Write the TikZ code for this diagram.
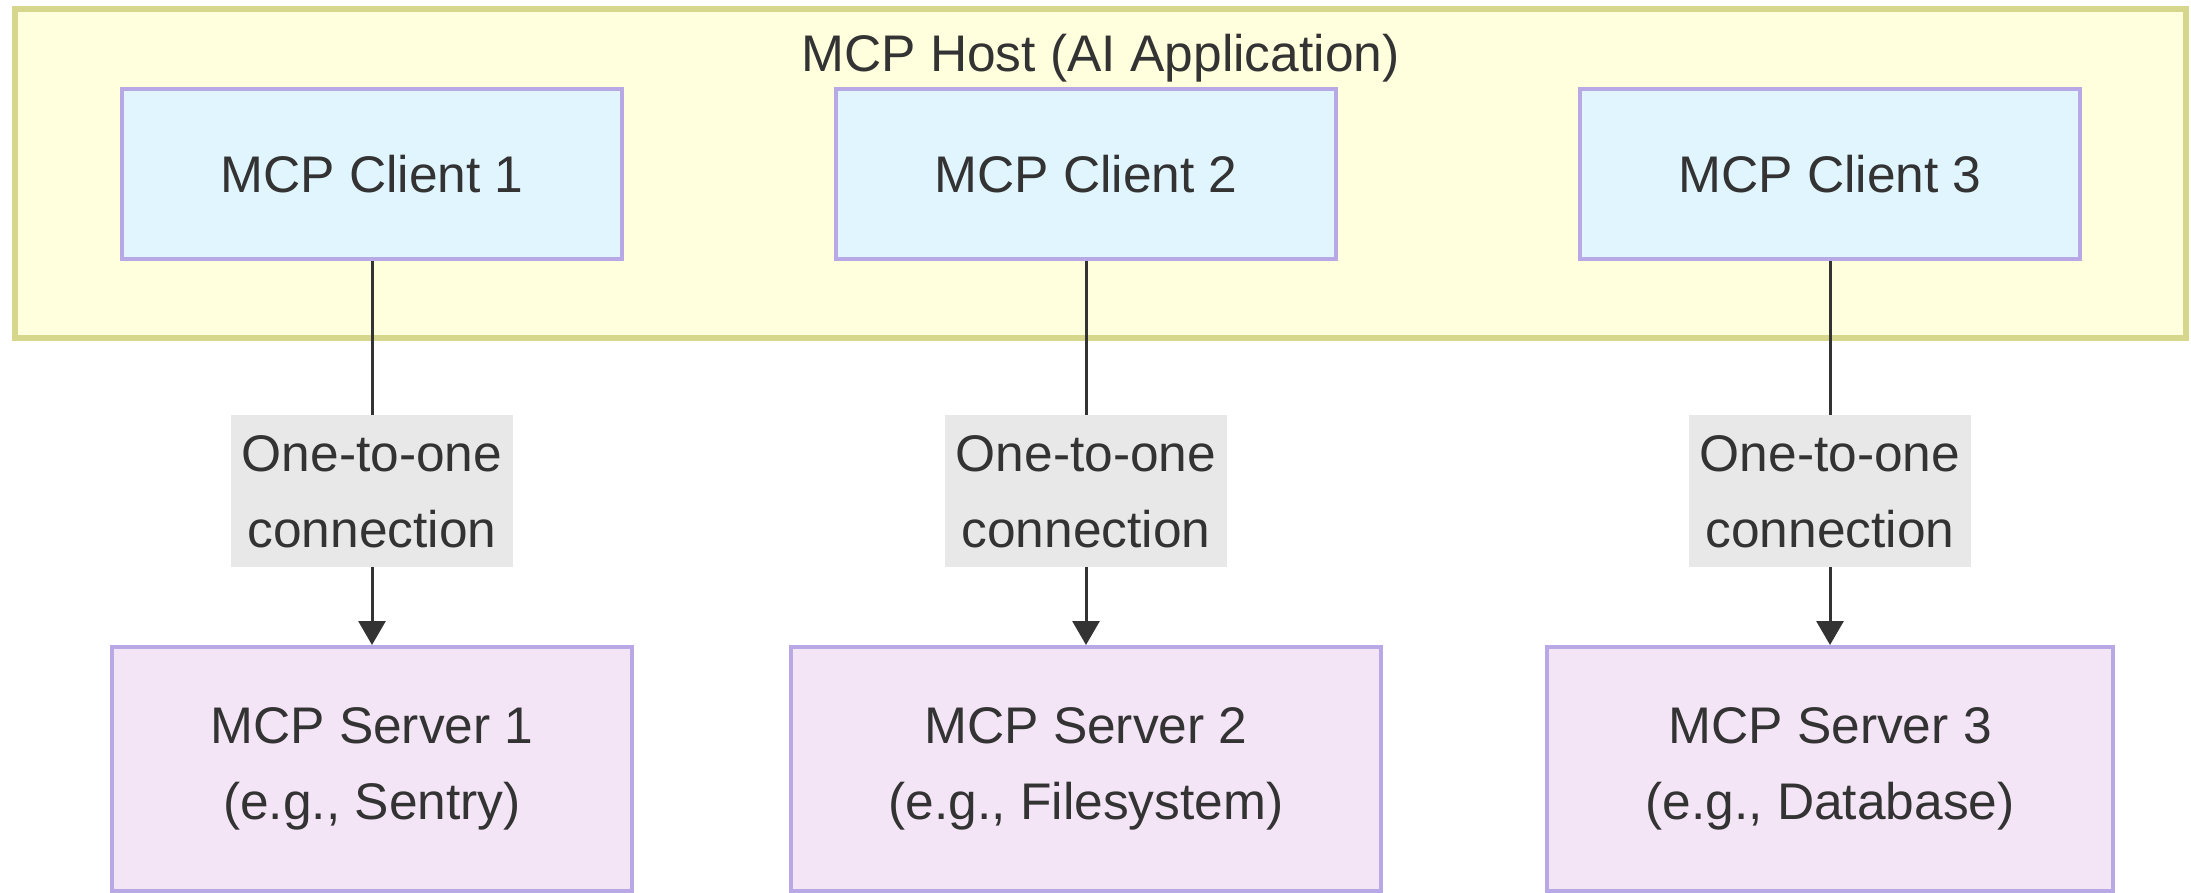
\documentclass[tikz,border=0pt]{standalone}
\usepackage{fontspec}
\setmainfont{Liberation Sans}
\usetikzlibrary{arrows.meta}
\definecolor{hostfill}{HTML}{FFFFDE}
\definecolor{hostline}{HTML}{D6D68C}
\definecolor{clientfill}{HTML}{E1F5FE}
\definecolor{serverfill}{HTML}{F3E5F5}
\definecolor{boxline}{HTML}{B8A8E6}
\definecolor{labelfill}{HTML}{E8E8E8}
\definecolor{txtgray}{HTML}{333333}
\newcommand{\mcpfont}{\fontsize{25.75}{38}\selectfont}

\begin{document}
\begin{tikzpicture}[x=0.5pt,y=-0.5pt]
  \tikzstyle{every node}=[font=\mcpfont,text=txtgray,align=center]
  \tikzstyle{client}=[draw=boxline,fill=clientfill,line width=2pt,minimum height=85pt,inner xsep=49pt]
  \tikzstyle{server}=[draw=boxline,fill=serverfill,line width=2pt,minimum height=122pt,inner xsep=49pt]
  \tikzstyle{linklabel}=[fill=labelfill,minimum height=76pt,inner xsep=5.5pt,inner ysep=0pt]
  \tikzstyle{conn}=[draw=txtgray,line width=1.5pt,-{Triangle[length=12pt,width=13.5pt]}]

  \useasboundingbox (0,0) rectangle (2191,893);

  % host container
  \node[draw=hostline,fill=hostfill,line width=3pt,minimum width=1085.5pt,minimum height=164.25pt] (host) at (1100.5,173.75) {};
  \node[anchor=base] (hosttitle) at (1100.5,72) {MCP Host (AI Application)};

  \node[client] (c1) at (372,174) {MCP Client 1};
  \node[client] (c2) at (1086,174) {MCP Client 2};
  \node[client] (c3) at (1830,174) {MCP Client 3};

  \node[server] (s1) at (372,769) {MCP Server 1\\(e.g., Sentry)};
  \node[server] (s2) at (1086,769) {MCP Server 2\\(e.g., Filesystem)};
  \node[server] (s3) at (1830,769) {MCP Server 3\\(e.g., Database)};

  \draw[conn] (c1) -- (s1) node[linklabel,pos=0.6] (l1) {One-to-one\\connection};
  \draw[conn] (c2) -- (s2) node[linklabel,pos=0.6] (l2) {One-to-one\\connection};
  \draw[conn] (c3) -- (s3) node[linklabel,pos=0.6] (l3) {One-to-one\\connection};

\end{tikzpicture}
\end{document}
